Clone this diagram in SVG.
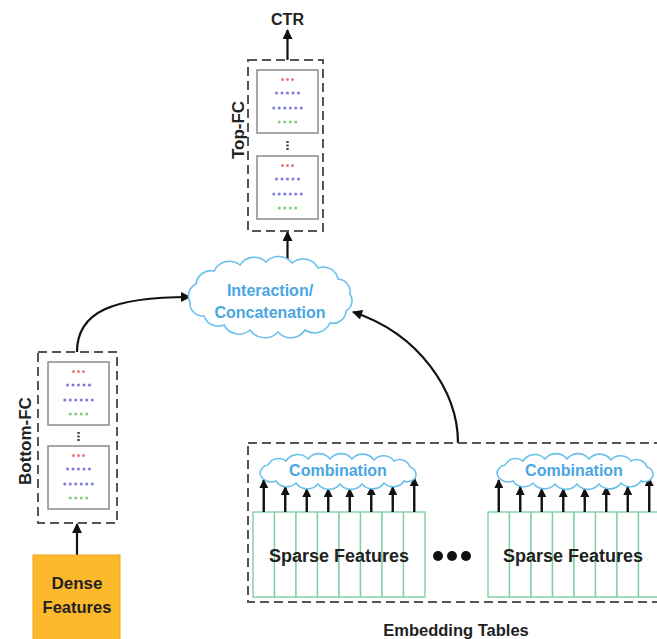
<svg xmlns="http://www.w3.org/2000/svg" xmlns:xlink="http://www.w3.org/1999/xlink" width="657" height="639" viewBox="0 0 657 639">
  <style>
    .lbl { font-family: "Liberation Sans", Arial, sans-serif; font-weight: bold; fill: #222; }
    .cloudtxt { font-family: "Liberation Sans", Arial, sans-serif; font-weight: bold; fill: #4aa6e2; font-size: 16px; }
    .dash { fill: none; stroke: #555; stroke-width: 2; stroke-dasharray: 9 5; }
    .cloud { fill: #fff; stroke: #6cc0ec; stroke-width: 1.6; }
    .conn { fill: none; stroke: #111; stroke-width: 2.2; }
    .feed { fill: none; stroke: #111; stroke-width: 2.4; }
    .col { fill: #fff; stroke: #7fd0a0; stroke-width: 1.4; }
    .r { fill: #e87a7a; }
    .b { fill: #7a7ae0; }
    .g { fill: #7ad07a; }
  </style>
  <defs>
    <marker id="ah" viewBox="0 0 10 10" refX="9" refY="5" markerWidth="11" markerHeight="10" markerUnits="userSpaceOnUse" orient="auto">
      <path d="M0,0 L10,5 L0,10 z" fill="#111"/>
    </marker>
    <marker id="ahs" viewBox="0 0 10 10" refX="9" refY="5" markerWidth="9" markerHeight="9" markerUnits="userSpaceOnUse" orient="auto">
      <path d="M0,0 L10,5 L0,10 z" fill="#111"/>
    </marker>
    <!-- one fully connected layer box with its neuron rows -->
    <g id="nbox">
      <rect x="0" y="0" width="61" height="63" fill="#fff" stroke="#8a8a8a" stroke-width="1.5"/>
      <circle class="r" cx="25.5" cy="9.5" r="1.5"/><circle class="r" cx="30.5" cy="9.5" r="1.5"/><circle class="r" cx="35.5" cy="9.5" r="1.5"/>
      <circle class="b" cx="19.5" cy="23" r="1.5"/><circle class="b" cx="25" cy="23" r="1.5"/><circle class="b" cx="30.5" cy="23" r="1.5"/><circle class="b" cx="36" cy="23" r="1.5"/><circle class="b" cx="41.5" cy="23" r="1.5"/>
      <circle class="b" cx="16.75" cy="38" r="1.5"/><circle class="b" cx="22.25" cy="38" r="1.5"/><circle class="b" cx="27.75" cy="38" r="1.5"/><circle class="b" cx="33.25" cy="38" r="1.5"/><circle class="b" cx="38.75" cy="38" r="1.5"/><circle class="b" cx="44.25" cy="38" r="1.5"/>
      <circle class="g" cx="22.25" cy="52" r="1.5"/><circle class="g" cx="27.75" cy="52" r="1.5"/><circle class="g" cx="33.25" cy="52" r="1.5"/><circle class="g" cx="38.75" cy="52" r="1.5"/>
    </g>
    <!-- vertical ellipsis between layer boxes -->
    <g id="vdots" fill="#444">
      <rect x="-1.2" y="0" width="2.4" height="2"/>
      <rect x="-1.2" y="3.5" width="2.4" height="2"/>
      <rect x="-1.2" y="7" width="2.4" height="2"/>
    </g>
    <!-- small cloud used by the Combination blocks, centred on 0,0 -->
    <path id="combo" class="cloud" d="M-78,3 A9,9 0 0 1 -70,-6 A12,12 0 0 1 -52,-10 A14,14 0 0 1 -30,-12 A14,14 0 0 1 -8,-12 A14,14 0 0 1 14,-12 A14,14 0 0 1 36,-11 A13,13 0 0 1 56,-10 A11,11 0 0 1 72,-4 A8,8 0 0 1 78,5 A9,9 0 0 1 66,10 A13,13 0 0 1 46,12 A14,14 0 0 1 24,13 A14,14 0 0 1 2,13 A14,14 0 0 1 -20,13 A14,14 0 0 1 -42,12 A13,13 0 0 1 -62,10 A12,12 0 0 1 -78,3 Z"/>
    <!-- eight stacked embedding columns -->
    <g id="cols">
      <rect class="col" x="0" y="0" width="21.5" height="85"/>
      <rect class="col" x="21.5" y="0" width="21.5" height="85"/>
      <rect class="col" x="43" y="0" width="21.5" height="85"/>
      <rect class="col" x="64.5" y="0" width="21.5" height="85"/>
      <rect class="col" x="86" y="0" width="21.5" height="85"/>
      <rect class="col" x="107.5" y="0" width="21.5" height="85"/>
      <rect class="col" x="129" y="0" width="21.5" height="85"/>
      <rect class="col" x="150.5" y="0" width="21.5" height="85"/>
    </g>
    <!-- arrows from the column tops into the Combination cloud -->
    <g id="feeds" class="feed">
      <line x1="10.75" y1="0" x2="10.75" y2="-32" marker-end="url(#ahs)"/>
      <line x1="32.25" y1="0" x2="32.25" y2="-25" marker-end="url(#ahs)"/>
      <line x1="53.75" y1="0" x2="53.75" y2="-23" marker-end="url(#ahs)"/>
      <line x1="75.25" y1="0" x2="75.25" y2="-23" marker-end="url(#ahs)"/>
      <line x1="96.75" y1="0" x2="96.75" y2="-23" marker-end="url(#ahs)"/>
      <line x1="118.25" y1="0" x2="118.25" y2="-25" marker-end="url(#ahs)"/>
      <line x1="139.75" y1="0" x2="139.75" y2="-25" marker-end="url(#ahs)"/>
      <line x1="161.25" y1="0" x2="161.25" y2="-34" marker-end="url(#ahs)"/>
    </g>
  </defs>

  <rect width="657" height="639" fill="#fff"/>

  <!-- connectors -->
  <g id="connectors" class="conn">
    <line x1="287.5" y1="60" x2="287.5" y2="30" marker-end="url(#ah)"/>
    <line x1="287.5" y1="263" x2="287.5" y2="232" marker-end="url(#ah)"/>
    <path d="M77,352 C77,312 112,297 190,297" marker-end="url(#ah)"/>
    <path d="M458,443 C458,392 420,334 353,312" marker-end="url(#ah)"/>
    <line x1="77" y1="555" x2="77" y2="524" marker-end="url(#ah)"/>
  </g>

  <!-- output -->
  <g id="ctr">
    <text class="lbl" x="287.5" y="25" font-size="16" text-anchor="middle">CTR</text>
  </g>

  <!-- top MLP -->
  <g id="top-fc">
    <rect class="dash" x="248" y="60" width="75" height="171"/>
    <use xlink:href="#nbox" x="257" y="70"/>
    <use xlink:href="#vdots" x="287.5" y="141"/>
    <use xlink:href="#nbox" x="257" y="156"/>
    <text class="lbl" font-size="17" text-anchor="middle" transform="translate(244,130) rotate(-90)">Top-FC</text>
  </g>

  <!-- feature interaction -->
  <g id="interaction">
    <path class="cloud" d="M190,302 A13,13 0 0 1 196,284 A15,15 0 0 1 214,271 A17,17 0 0 1 240,265 A17,17 0 0 1 266,262 A17,17 0 0 1 292,263 A17,17 0 0 1 318,268 A15,15 0 0 1 338,279 A13,13 0 0 1 350,294 A12,12 0 0 1 346,311 A13,13 0 0 1 330,323 A17,17 0 0 1 305,330 A17,17 0 0 1 278,332 A18,18 0 0 1 250,330 A17,17 0 0 1 224,325 A15,15 0 0 1 204,316 A13,13 0 0 1 190,302 Z"/>
    <text class="cloudtxt" x="270" y="296" text-anchor="middle">Interaction/</text>
    <text class="cloudtxt" x="270" y="318" text-anchor="middle">Concatenation</text>
  </g>

  <!-- bottom MLP -->
  <g id="bottom-fc">
    <rect class="dash" x="38" y="352" width="79" height="171"/>
    <use xlink:href="#nbox" x="48" y="362"/>
    <use xlink:href="#vdots" x="78.5" y="432"/>
    <use xlink:href="#nbox" x="48" y="446"/>
    <text class="lbl" font-size="17" text-anchor="middle" transform="translate(31,441) rotate(-90)">Bottom-FC</text>
  </g>

  <!-- dense input -->
  <g id="dense">
    <rect x="33" y="555" width="87" height="95" fill="#fdb92c" stroke="#f0a418" stroke-width="1"/>
    <text class="lbl" x="77" y="589" font-size="17" text-anchor="middle" fill="#332200">Dense</text>
    <text class="lbl" x="77" y="613" font-size="16.5" text-anchor="middle" fill="#332200">Features</text>
  </g>

  <!-- embedding tables -->
  <g id="embedding">
    <rect class="dash" x="248" y="443" width="470" height="159"/>
    <text class="lbl" x="456" y="636" font-size="16.5" text-anchor="middle">Embedding Tables</text>
  </g>

  <g id="sparse-1">
    <use xlink:href="#cols" x="253" y="512"/>
    <use xlink:href="#feeds" x="253" y="512"/>
    <use xlink:href="#combo" x="338" y="471"/>
    <text class="cloudtxt" x="338" y="476" text-anchor="middle">Combination</text>
    <text class="lbl" x="339" y="562" font-size="18" text-anchor="middle" fill="#333">Sparse Features</text>
  </g>

  <g id="gap">
    <circle cx="438" cy="556" r="5" fill="#111"/>
    <circle cx="452" cy="556" r="5" fill="#111"/>
    <circle cx="466" cy="556" r="5" fill="#111"/>
  </g>

  <g id="sparse-2">
    <use xlink:href="#cols" x="488" y="512"/>
    <use xlink:href="#feeds" x="488" y="512"/>
    <use xlink:href="#combo" x="575" y="471"/>
    <text class="cloudtxt" x="574" y="476" text-anchor="middle">Combination</text>
    <text class="lbl" x="573" y="562" font-size="18" text-anchor="middle" fill="#333">Sparse Features</text>
  </g>
</svg>
